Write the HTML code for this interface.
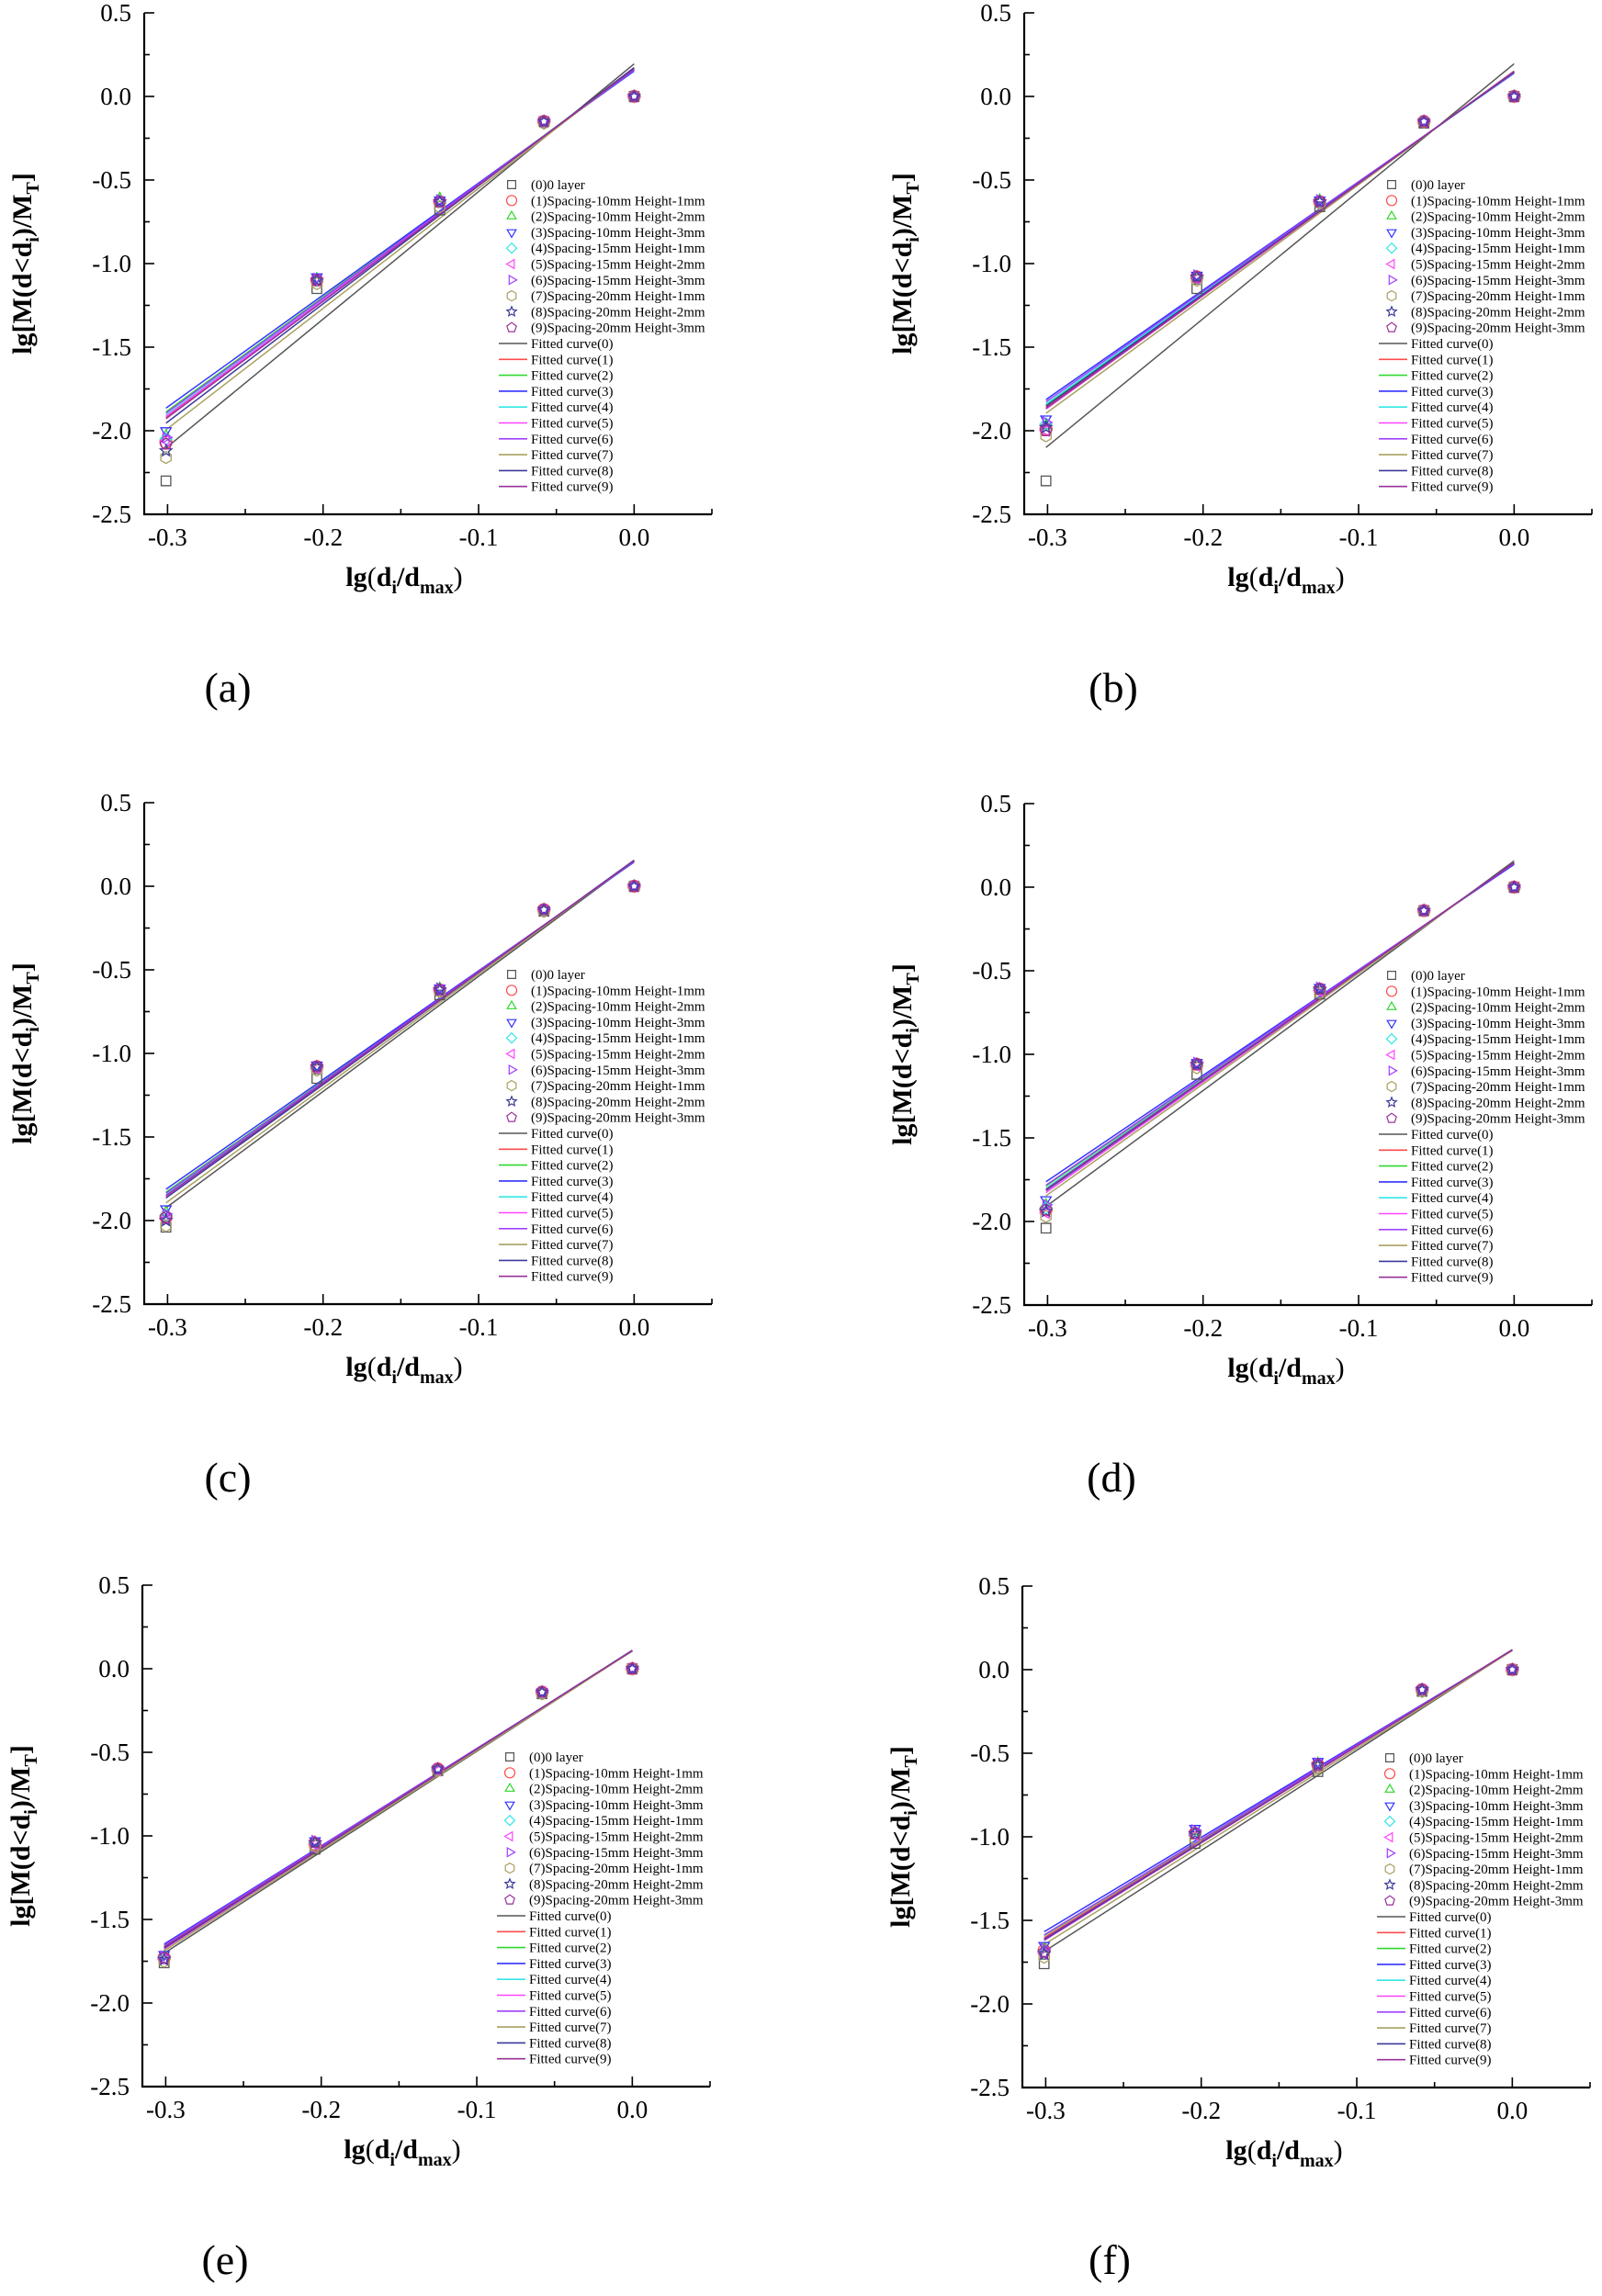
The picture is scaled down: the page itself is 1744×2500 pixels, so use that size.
<!DOCTYPE html>
<html><head><meta charset="utf-8">
<style>
html,body{margin:0;padding:0;background:#fff;}
svg{display:block;font-family:"Liberation Serif",serif;}
</style></head>
<body>
<svg id="fig" width="1744" height="2500" viewBox="0 0 1744 2500" xmlns="http://www.w3.org/2000/svg"></svg>
<script>
const xValues = [-0.301, -0.204, -0.125, -0.058, 0];
const xTicks = ["-0.3", "-0.2", "-0.1", "0.0"];
const yTicks = ["0.5", "0.0", "-0.5", "-1.0", "-1.5", "-2.0", "-2.5"];
const seriesNames = ["(0)0 layer","(1)Spacing-10mm Height-1mm","(2)Spacing-10mm Height-2mm","(3)Spacing-10mm Height-3mm","(4)Spacing-15mm Height-1mm","(5)Spacing-15mm Height-2mm","(6)Spacing-15mm Height-3mm","(7)Spacing-20mm Height-1mm","(8)Spacing-20mm Height-2mm","(9)Spacing-20mm Height-3mm"];
const panelLabels = ["(a)","(b)","(c)","(d)","(e)","(f)"];
const panelA = [[-2.30,-1.15,-0.68,-0.15,0],[-2.07,-1.10,-0.63,-0.15,0],[-2.03,-1.09,-0.61,-0.15,0],[-2.00,-1.08,-0.62,-0.15,0],[-2.05,-1.10,-0.63,-0.15,0],[-2.06,-1.10,-0.63,-0.15,0],[-2.04,-1.09,-0.62,-0.15,0],[-2.16,-1.12,-0.66,-0.16,0],[-2.12,-1.10,-0.63,-0.15,0],[-2.08,-1.10,-0.63,-0.15,0]];
const panelB = [[-2.30,-1.15,-0.66,-0.16,0],[-1.99,-1.08,-0.63,-0.15,0],[-1.97,-1.08,-0.62,-0.15,0],[-1.93,-1.07,-0.62,-0.15,0],[-1.96,-1.08,-0.63,-0.15,0],[-2.00,-1.09,-0.63,-0.15,0],[-1.95,-1.07,-0.62,-0.15,0],[-2.03,-1.10,-0.64,-0.15,0],[-1.98,-1.08,-0.63,-0.15,0],[-2.00,-1.08,-0.63,-0.15,0]];
const panelC = [[-2.04,-1.15,-0.65,-0.15,0],[-1.98,-1.08,-0.62,-0.14,0],[-1.95,-1.08,-0.61,-0.14,0],[-1.93,-1.07,-0.61,-0.14,0],[-1.97,-1.08,-0.62,-0.14,0],[-1.99,-1.09,-0.62,-0.14,0],[-1.96,-1.08,-0.61,-0.14,0],[-2.03,-1.10,-0.63,-0.15,0],[-2.00,-1.08,-0.62,-0.14,0],[-1.98,-1.08,-0.62,-0.14,0]];
const panelD = [[-2.04,-1.12,-0.64,-0.14,0],[-1.93,-1.06,-0.61,-0.14,0],[-1.90,-1.06,-0.61,-0.14,0],[-1.87,-1.05,-0.60,-0.14,0],[-1.92,-1.06,-0.61,-0.14,0],[-1.95,-1.07,-0.62,-0.14,0],[-1.90,-1.05,-0.60,-0.14,0],[-1.97,-1.08,-0.63,-0.14,0],[-1.94,-1.06,-0.61,-0.14,0],[-1.93,-1.06,-0.61,-0.14,0]];
const panelE = [[-1.76,-1.08,-0.61,-0.15,0],[-1.73,-1.05,-0.60,-0.14,0],[-1.72,-1.04,-0.60,-0.14,0],[-1.71,-1.03,-0.60,-0.14,0],[-1.73,-1.04,-0.60,-0.14,0],[-1.74,-1.05,-0.61,-0.14,0],[-1.72,-1.03,-0.60,-0.14,0],[-1.75,-1.06,-0.61,-0.15,0],[-1.74,-1.04,-0.60,-0.14,0],[-1.73,-1.04,-0.60,-0.14,0]];
const panelF = [[-1.76,-1.04,-0.61,-0.13,0],[-1.68,-0.98,-0.57,-0.12,0],[-1.67,-0.97,-0.56,-0.12,0],[-1.65,-0.95,-0.55,-0.12,0],[-1.69,-0.98,-0.57,-0.12,0],[-1.70,-0.99,-0.57,-0.12,0],[-1.67,-0.96,-0.56,-0.12,0],[-1.72,-1.01,-0.59,-0.13,0],[-1.70,-0.98,-0.57,-0.12,0],[-1.69,-0.98,-0.57,-0.12,0]];
const panelData = [panelA, panelB, panelC, panelD, panelE, panelF];

const colors = ["#555","#ff4b4b","#2fd82f","#3333ff","#33e6e6","#ff44ff","#a040ff","#a8a060","#3a3a9a","#9a309a"];
const shapes = ["square","circle","up","down","diamond","left","right","hex","star","pent"];
const boxes = [[157,14,0],[1115,14,1],[157,874,0],[1115,875,1],[155,1726,0],[1113,1727,1]];
const titleCx = [440,1400,440,1400,438,1398];
const labelX = [248,1212,248,1210,245,1208];
const labelY = [749,749,1609,1609,2461,2461];
const NS = "http://www.w3.org/2000/svg";
const svg = document.getElementById("fig");
function mk(tag, attrs, parent){
  const e = document.createElementNS(NS, tag);
  for (const k in attrs) e.setAttribute(k, attrs[k]);
  (parent||svg).appendChild(e);
  return e;
}
function markerPath(s, x, y, r){
  const pts = (n, rot, rr) => { let a=[]; for(let i=0;i<n;i++){const t=rot+i*2*Math.PI/n; a.push((x+rr*Math.cos(t)).toFixed(1)+","+(y+rr*Math.sin(t)).toFixed(1));} return "M"+a.join("L")+"Z"; };
  switch(s){
    case "square": return `M${x-r*0.8},${y-r*0.8}h${r*1.6}v${r*1.6}h${-r*1.6}Z`;
    case "circle": return `M${x-r},${y}a${r},${r} 0 1,0 ${2*r},0a${r},${r} 0 1,0 ${-2*r},0`;
    case "up": return pts(3,-Math.PI/2,r);
    case "down": return pts(3,Math.PI/2,r);
    case "diamond": return pts(4,-Math.PI/2,r);
    case "left": return pts(3,Math.PI,r);
    case "right": return pts(3,0,r);
    case "hex": return pts(6,-Math.PI/2,r);
    case "pent": return pts(5,-Math.PI/2,r);
    case "star": { let a=[]; for(let i=0;i<10;i++){const t=-Math.PI/2+i*Math.PI/5; const rr=i%2?r*0.45:r; a.push((x+rr*Math.cos(t)).toFixed(1)+","+(y+rr*Math.sin(t)).toFixed(1));} return "M"+a.join("L")+"Z"; }
  }
}
function fit(ys){
  const n=xValues.length; let mx=0,my=0; for(let i=0;i<n;i++){mx+=xValues[i];my+=ys[i];} mx/=n; my/=n;
  let sxy=0,sxx=0; for(let i=0;i<n;i++){sxy+=(xValues[i]-mx)*(ys[i]-my); sxx+=(xValues[i]-mx)**2;}
  const b=sxy/sxx; return [b, my-b*mx];
}
panelData.forEach((data, p) => {
  const [L, T, col] = boxes[p];
  const XMIN = -0.315, XMAX = 0.05;
  const W = 618, H = 546;
  const sx = v => L + (v - XMIN) / (XMAX - XMIN) * W;
  const sy = v => T + (0.5 - v) / 3.0 * H;
  const g = mk("g", {});
  
  
  const ax = mk("path", {d:`M${L},${T}V${T+H}H${L+W}`, fill:"none", stroke:"#000", "stroke-width":2.2}, g);
  
  
  for (let i=0;i<=7;i++){
    const v = -0.3 + i*0.05; const x = sx(v); const major = (i%2===0);
    const t = mk("line",{x1:x,x2:x,y1:T+H,y2:T+H-(major?11:6),stroke:"#000","stroke-width":1.6},g);
    
    
  }
  xTicks.forEach((lab,i)=>{
    const v = -0.3 + i*0.1;
    const t = mk("text",{x:sx(v),y:T+H+34,"text-anchor":"middle","font-size":27},g);
    t.textContent = lab;
    
    
  });
  for (let i=0;i<=12;i++){
    const v = 0.5 - i*0.25; const y = sy(v); const major = (i%2===0);
    const t = mk("line",{x1:L,x2:L+(major?11:6),y1:y,y2:y,stroke:"#000","stroke-width":1.6},g);
    
    
  }
  yTicks.forEach((lab,i)=>{
    const v = 0.5 - i*0.5;
    const t = mk("text",{x:L-14,y:sy(v)+9,"text-anchor":"end","font-size":27},g);
    t.textContent = lab;
    
    
  });
  const xt = mk("text",{x:titleCx[p],y:T+H+78,"text-anchor":"middle","font-size":30,"font-weight":"bold"},g);
  xt.innerHTML = 'lg<tspan font-weight="normal">(</tspan>d<tspan font-size="20" dy="8">i</tspan><tspan dy="-8">/d</tspan><tspan font-size="20" dy="8">max</tspan><tspan font-weight="normal" dy="-8">)</tspan>';
  
  
  const yt = mk("text",{x:0,y:0,"text-anchor":"middle","font-size":30,"font-weight":"bold",transform:`translate(${L-123},${T+H/2}) rotate(-90)`},g);
  yt.innerHTML = 'lg[M(d&lt;d<tspan font-size="20" dy="8">i</tspan><tspan dy="-8">)/M</tspan><tspan font-size="20" dy="8">T</tspan><tspan dy="-8">]</tspan>';
  
  
  data.forEach((ys,s)=>{
    const [b,a] = fit(ys);
    const x0 = xValues[0], x1 = xValues[xValues.length-1];
    const ln = mk("line",{x1:sx(x0),y1:sy(a+b*x0),x2:sx(x1),y2:sy(a+b*x1),stroke:colors[s],"stroke-width":1.5},g);
    
    
  });
  data.forEach((ys,s)=>{
    ys.forEach((v,i)=>{
      const m = mk("path",{d:markerPath(shapes[s],sx(xValues[i]),sy(v),6.5),fill:"none",stroke:colors[s],"stroke-width":1.3},g);
      
      
    });
  });
  const lx = L + 400, ly = T + 187, dyL = 17.3;
  for (let s=0;s<10;s++){
    const y = ly + s*dyL;
    const m = mk("path",{d:markerPath(shapes[s],lx,y,5.5),fill:"none",stroke:colors[s],"stroke-width":1.2},g);
    
    
    const t = mk("text",{x:lx+21,y:y+5,"font-size":15},g);
    t.textContent = seriesNames[s];
    
    
  }
  for (let s=0;s<10;s++){
    const y = ly + (10+s)*dyL;
    const l = mk("line",{x1:lx-14,x2:lx+17,y1:y,y2:y,stroke:colors[s],"stroke-width":1.6},g);
    
    
    const t = mk("text",{x:lx+21,y:y+5,"font-size":15},g);
    t.textContent = "Fitted curve(" + s + ")";
    
    
  }
  const pl = mk("text",{x:labelX[p],y:labelY[p]+15,"text-anchor":"middle","font-size":46},g);
  pl.textContent = panelLabels[p];
  
  
});
</script>
</body></html>
